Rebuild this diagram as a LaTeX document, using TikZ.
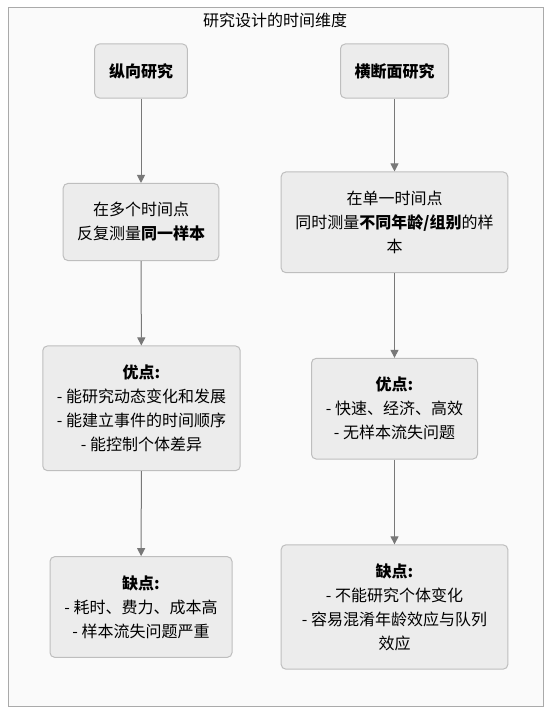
\documentclass[tikz,border=0pt]{standalone}
\usepackage{fontspec}
\setmainfont{Noto Sans CJK SC}
\usetikzlibrary{arrows.meta}

\definecolor{framefill}{RGB}{250,250,250}
\definecolor{frameline}{RGB}{170,170,170}
\definecolor{boxfill}{RGB}{236,236,236}
\definecolor{boxline}{RGB}{190,190,190}
\definecolor{linkgray}{RGB}{120,120,120}

\tikzset{every picture/.style={line width=0.75pt},
	box/.style={draw=boxline, fill=boxfill, rounded corners=3.5pt, align=center, inner sep=0pt, font=\fontsize{12}{18}\selectfont},
	link/.style={draw=linkgray, -{Triangle[length=6pt,width=6pt]}}}

\begin{document}
\begin{tikzpicture}[x=0.75pt,y=0.75pt,yscale=-1,xscale=1]
	\useasboundingbox (0,0) rectangle (559,724);
	
	%Shape: Rectangle [id:frame] 
	\draw [draw=frameline, fill=framefill] (8,7.5) rectangle (543,706) ;
	% Text Node
	\node [font=\fontsize{12}{18}\selectfont] (title) at (275,20) {研究设计的时间维度};
	
	%Shape: Rectangle [id:lon] 
	\node [box, minimum width=69.4pt, minimum height=40.5pt] (lon) at (141,71) {\textbf{纵向研究}};
	%Shape: Rectangle [id:cross] 
	\node [box, minimum width=81pt, minimum height=40.5pt] (cross) at (394.5,71) {\textbf{横断面研究}};
	%Shape: Rectangle [id:lonDef] 
	\node [box, minimum width=116.7pt, minimum height=57.8pt] (lonDef) at (141,222) {在多个时间点\\反复测量\textbf{同一样本}};
	%Shape: Rectangle [id:crossDef] 
	\node [box, minimum width=170pt, minimum height=75.5pt] (crossDef) at (394.5,222.3) {在单一时间点\\同时测量\textbf{不同年龄/组别}的样\\本};
	%Shape: Rectangle [id:lonPro] 
	\node [box, minimum width=148.1pt, minimum height=93.5pt] (lonPro) at (141.5,408.3) {\textbf{优点:}\\- 能研究动态变化和发展\\- 能建立事件的时间顺序\\- 能控制个体差异};
	%Shape: Rectangle [id:crossPro] 
	\node [box, minimum width=124.5pt, minimum height=75.5pt] (crossPro) at (394.5,408.7) {\textbf{优点:}\\- 快速、经济、高效\\- 无样本流失问题};
	%Shape: Rectangle [id:lonCon] 
	\node [box, minimum width=136.5pt, minimum height=75.5pt] (lonCon) at (141,607) {\textbf{缺点:}\\- 耗时、费力、成本高\\- 样本流失问题严重};
	%Shape: Rectangle [id:crossCon] 
	\node [box, minimum width=170pt, minimum height=93.2pt] (crossCon) at (394.5,607) {\textbf{缺点:}\\- 不能研究个体变化\\- 容易混淆年龄效应与队列\\效应};
	
	%Straight Lines [id:links] 
	\draw [link] (lon) -- (lonDef) ;
	\draw [link] (lonDef) -- (lonPro) ;
	\draw [link] (lonPro) -- (lonCon) ;
	\draw [link] (cross) -- (crossDef) ;
	\draw [link] (crossDef) -- (crossPro) ;
	\draw [link] (crossPro) -- (crossCon) ;
	
\end{tikzpicture}
\end{document}
